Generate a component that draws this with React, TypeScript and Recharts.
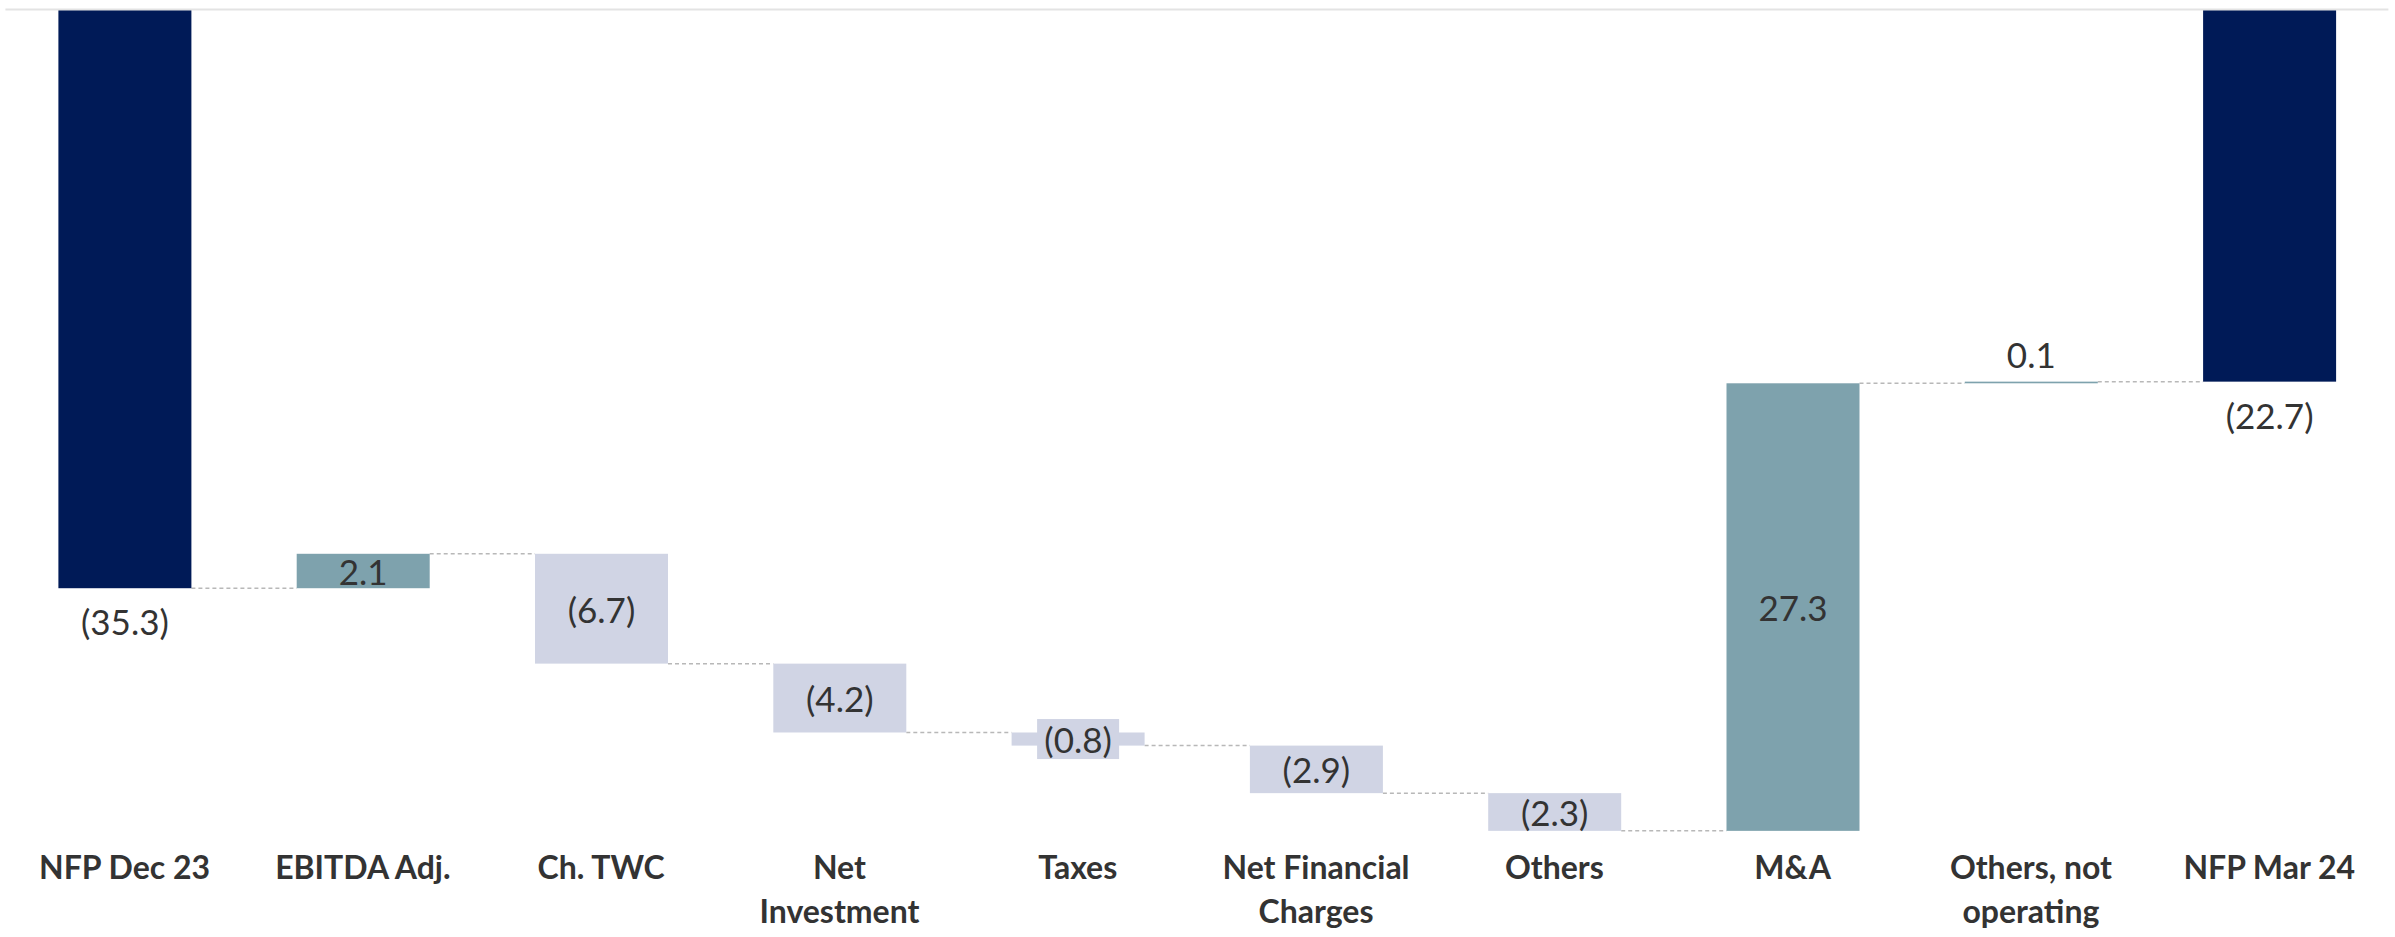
import React from "react";
import { Bar, BarChart, ReferenceLine, XAxis, YAxis } from "recharts";

const categories = [
  "NFP Dec 23",
  "EBITDA Adj.",
  "Ch. TWC",
  "Net\nInvestment",
  "Taxes",
  "Net Financial\nCharges",
  "Others",
  "M&A",
  "Others, not\noperating",
  "NFP Mar 24",
];
// totals are levels, the rest are movements
const values = [-35.3, 2.1, -6.7, -4.2, -0.8, -2.9, -2.3, 27.3, 0.1, -22.7];
const isTotal = [true, false, false, false, false, false, false, false, false, true];

const W = 2395;
const H = 937;
const M = { top: 9.5, right: 6.6, bottom: 0, left: 5.4 };
const BAND = (W - M.left - M.right) / categories.length;

const NAVY = "#001A57";
const TEAL = "#7EA2AD";
const LAVENDER = "#D0D4E4";
const TEXT = "#333333";
const FONT = "Lato, 'Open Sans', sans-serif";

type Row = { name: string; range: [number, number]; delta: number; total: boolean };

const data: Row[] = (() => {
  let run = 0;
  return categories.map((name, i) => {
    const v = values[i];
    if (isTotal[i]) {
      run = v;
      return { name, range: [Math.min(0, v), Math.max(0, v)], delta: v, total: true };
    }
    const start = run;
    run = run + v;
    return {
      name,
      range: [Math.min(start, run), Math.max(start, run)],
      delta: v,
      total: false,
    };
  });
})();

const fmt = (v: number) => (v < 0 ? `(${Math.abs(v).toFixed(1)})` : v.toFixed(1));

const StepShape = (props: any) => {
  const { x, y, width, height, payload, index } = props;
  const top = Math.min(y, y + height);
  const h = Math.abs(height);
  const up = !payload.total && payload.delta >= 0;
  const fill = payload.total ? NAVY : up ? TEAL : LAVENDER;
  const endY = up ? top : top + h;
  const cx = x + width / 2;
  const label = fmt(payload.delta);

  let cy = top + h / 2;
  let box = false;
  if (payload.total) cy = top + h + 33;
  else if (h < 20) {
    if (up) cy = top - 28;
    else box = true;
  }
  const boxW = label.length * 14 + 12;

  return (
    <g>
      {index < categories.length - 1 && (
        <line
          x1={x + width}
          x2={x + BAND}
          y1={endY}
          y2={endY}
          stroke="#B8B8B8"
          strokeWidth={1.5}
          strokeDasharray="4 3"
        />
      )}
      <rect x={x} y={top} width={width} height={Math.max(h, 1)} fill={fill} />
      {box && <rect x={cx - boxW / 2} y={cy - 20} width={boxW} height={40} fill={LAVENDER} />}
      <text
        x={cx}
        y={cy}
        textAnchor="middle"
        dominantBaseline="central"
        fontFamily={FONT}
        fontSize={35}
        fill={TEXT}
      >
        {label}
      </text>
    </g>
  );
};

const CategoryTick = ({ x, y, payload }: any) => {
  const lines = String(payload.value).split("\n");
  return (
    <text x={x} y={y} textAnchor="middle" fontFamily={FONT} fontWeight={700} fontSize={32} fill={TEXT}>
      {lines.map((l, i) => (
        <tspan key={i} x={x} dy={i === 0 ? 17 : 44}>
          {l}
        </tspan>
      ))}
    </text>
  );
};

export default function App() {
  return (
    <div style={{ position: "absolute", left: 0, top: 0, width: W, height: H, background: "#fff" }}>
      <BarChart width={W} height={H} data={data} margin={M}>
        <XAxis
          dataKey="name"
          axisLine={false}
          tickLine={false}
          tickSize={0}
          tickMargin={0}
          height={75}
          interval={0}
          tick={<CategoryTick />}
        />
        <YAxis hide domain={[-52, 0]} />
        <ReferenceLine y={0} stroke="#E3E3E3" strokeWidth={2} />
        <Bar dataKey="range" barSize={133} shape={<StepShape />} isAnimationActive={false} />
      </BarChart>
    </div>
  );
}
